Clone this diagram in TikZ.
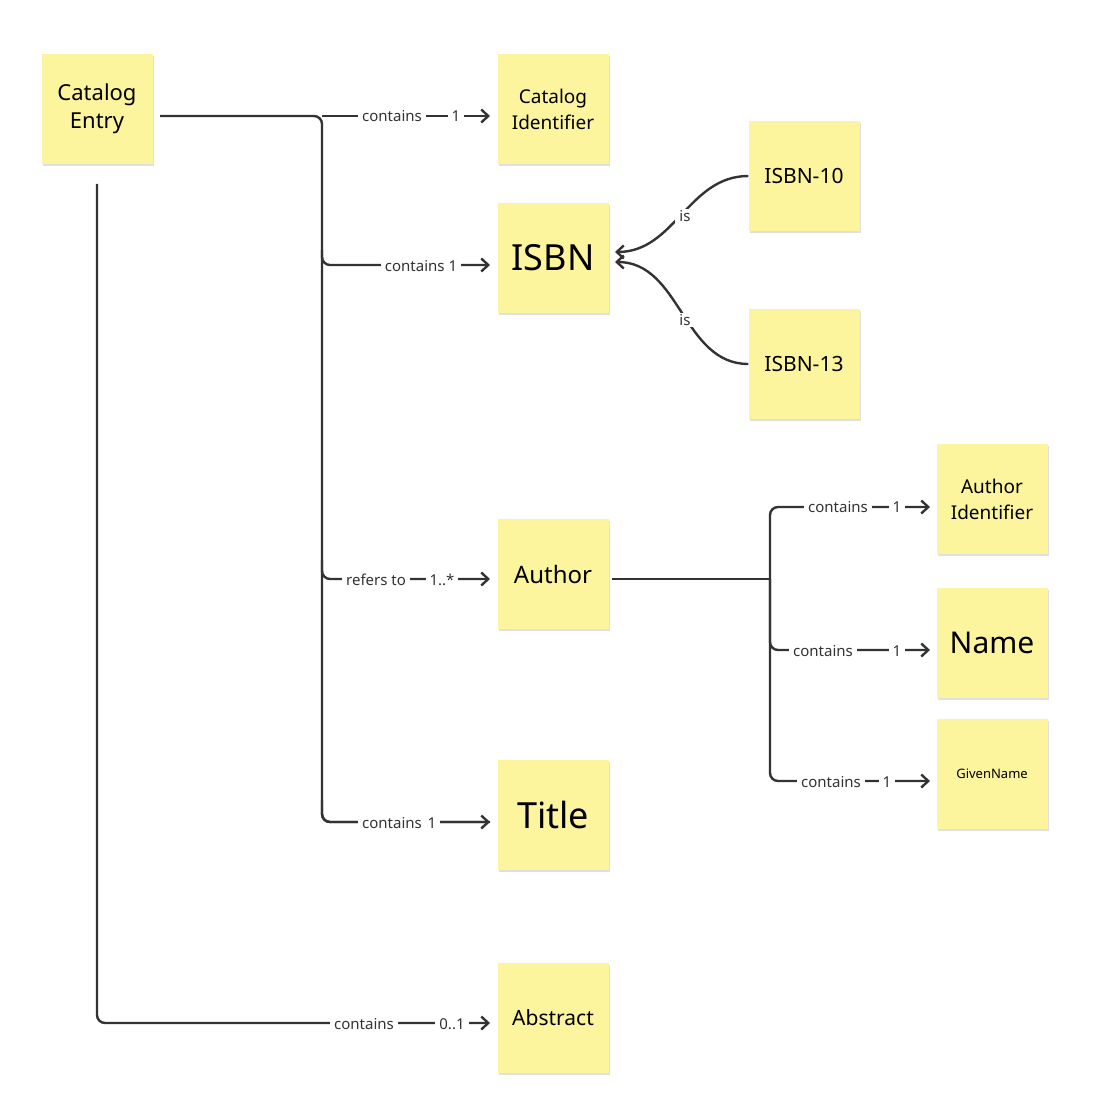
\documentclass[tikz,border=0pt]{standalone}
\usepackage{fontspec}
\setmainfont{Noto Sans}
\usetikzlibrary{arrows.meta,shadows}
\definecolor{sticky}{HTML}{FDF49E}
\definecolor{ln}{HTML}{333333}
\begin{document}
\begin{tikzpicture}[x=1pt,y=-1pt,
  note/.style={fill=sticky,minimum width=111pt,minimum height=110pt,inner sep=2pt,align=center,text width=105pt,
    drop shadow={shadow xshift=1pt,shadow yshift=-2pt,opacity=0.12,fill=black}},
  conn/.style={draw=ln,line width=2.4pt,rounded corners=8pt},
  arr/.style={conn,-{Straight Barb[length=7pt,width=13pt]}},
  lab/.style={fill=white,inner xsep=4pt,inner ysep=1.5pt,font=\fontsize{15}{17}\selectfont,text=ln}]
\useasboundingbox (0,0) rectangle (1092,1110);
\node[note,font=\fontsize{22}{28}\selectfont] (ce) at (97,109) {Catalog\\Entry};
\node[note,font=\fontsize{19}{26}\selectfont] (ci) at (553,109) {Catalog\\Identifier};
\node[note,font=\fontsize{36}{40}\selectfont] (isbn) at (553,258) {ISBN};
\node[note,font=\fontsize{21}{26}\selectfont] (i10) at (804,176) {ISBN-10};
\node[note,font=\fontsize{21}{26}\selectfont] (i13) at (804,364) {ISBN-13};
\node[note,font=\fontsize{24}{28}\selectfont] (au) at (553,574) {Author};
\node[note,font=\fontsize{36}{40}\selectfont] (ti) at (553,815) {Title};
\node[note,font=\fontsize{21}{26}\selectfont] (ab) at (553,1018) {Abstract};
\node[note,font=\fontsize{19}{26}\selectfont] (ai) at (992,499) {Author\\Identifier};
\node[note,font=\fontsize{30}{34}\selectfont] (nm) at (992,643) {Name};
\node[note,font=\fontsize{13}{16}\selectfont] (gn) at (992,774) {GivenName};
% trunk from Catalog Entry
\coordinate (s1) at (160,116);
\coordinate (t) at (322,116);
\draw[conn] (s1) -- (t) -- (322,822) -- (490,822);
\draw[arr] (t) -- (490,116);
\draw[arr] (322,250) |- (490,265);
\draw[arr] (322,560) |- (490,579);
\draw[arr] (322,800) |- (490,822);
\node[lab] at (392,116) {contains};
\node[lab] at (456,116) {1};
\node[lab] at (421,266) {contains 1};
\node[lab] at (376,580) {refers to};
\node[lab] at (442,580) {1..*};
\node[lab] at (392,823) {contains};
\node[lab] at (432,823) {1};
% abstract
\draw[arr] (97,184) |- (490,1023);
\node[lab] at (364,1024) {contains};
\node[lab] at (452,1024) {0..1};
% ISBN variants
\draw[arr] (i10.west) to[out=180,in=0] (615,252);
\draw[arr] (i13.west) to[out=180,in=0] (615,262);
\node[lab] at (685,216) {is};
\node[lab] at (685,320) {is};
% Author subtree
\coordinate (a2) at (770,579);
\draw[conn] (612,579) -- (a2);
\draw[arr] (a2) |- (930,507);
\draw[arr] (a2) |- (930,650);
\draw[arr] (a2) |- (930,781);
\node[lab] at (838,507) {contains};
\node[lab] at (897,507) {1};
\node[lab] at (823,651) {contains};
\node[lab] at (897,651) {1};
\node[lab] at (831,782) {contains};
\node[lab] at (887,782) {1};
\end{tikzpicture}
\end{document}
